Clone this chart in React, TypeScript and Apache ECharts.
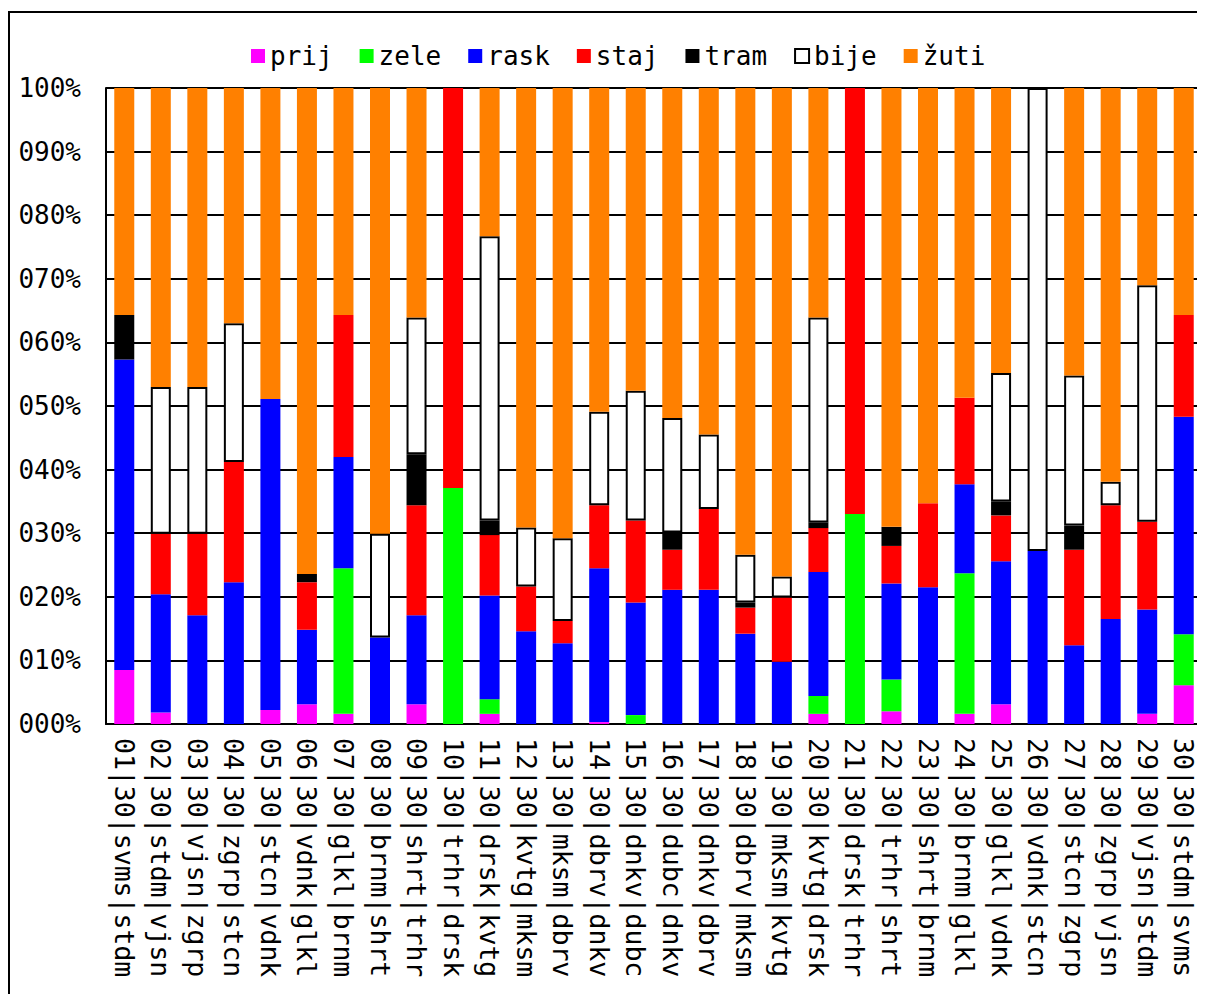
import React, { useEffect, useRef } from "react";
import * as echarts from "echarts";

const categories = [
  "01|30|svms|stdm", "02|30|stdm|vjsn", "03|30|vjsn|zgrp", "04|30|zgrp|stcn", "05|30|stcn|vdnk",
  "06|30|vdnk|glkl", "07|30|glkl|brnm", "08|30|brnm|shrt", "09|30|shrt|trhr", "10|30|trhr|drsk",
  "11|30|drsk|kvtg", "12|30|kvtg|mksm", "13|30|mksm|dbrv", "14|30|dbrv|dnkv", "15|30|dnkv|dubc",
  "16|30|dubc|dnkv", "17|30|dnkv|dbrv", "18|30|dbrv|mksm", "19|30|mksm|kvtg", "20|30|kvtg|drsk",
  "21|30|drsk|trhr", "22|30|trhr|shrt", "23|30|shrt|brnm", "24|30|brnm|glkl", "25|30|glkl|vdnk",
  "26|30|vdnk|stcn", "27|30|stcn|zgrp", "28|30|zgrp|vjsn", "29|30|vjsn|stdm", "30|30|stdm|svms",
];

const prij = [8.5, 1.8, 0, 0, 2.2, 3.1, 1.6, 0, 3.1, 0, 1.6, 0, 0, 0.3, 0, 0, 0, 0, 0, 1.6, 0, 2.0, 0, 1.6, 3.1, 0, 0, 0, 1.6, 6.1];
const zele = [0, 0, 0, 0, 0, 0, 22.9, 0, 0, 37.1, 2.3, 0, 0, 0, 1.4, 0, 0, 0, 0, 2.8, 33.0, 5.0, 0, 22.1, 0, 0, 0, 0, 0, 8.0];
const rask = [48.8, 18.6, 17.1, 22.3, 48.9, 11.7, 17.5, 13.6, 14.0, 0, 16.3, 14.6, 12.7, 24.2, 17.7, 21.1, 21.1, 14.2, 9.8, 19.5, 0, 15.1, 21.5, 14.0, 22.5, 27.2, 12.4, 16.5, 16.4, 34.2];
const staj = [0, 9.5, 12.8, 18.9, 0, 7.5, 22.3, 0, 17.3, 62.9, 9.5, 7.0, 3.5, 9.9, 12.9, 6.3, 12.7, 4.1, 10.1, 6.9, 67.0, 5.9, 13.2, 13.6, 7.2, 0, 15.0, 17.9, 13.8, 16.0];
const tram = [7.0, 0, 0, 0, 0, 1.3, 0, 0, 8.0, 0, 2.3, 0, 0, 0, 0, 2.7, 0, 0.8, 0, 0.9, 0, 3.0, 0, 0, 2.2, 0, 3.8, 0, 0, 0];
const bije = [0, 23.1, 23.1, 21.8, 0, 0, 0, 16.3, 21.5, 0, 44.7, 9.3, 13.0, 14.7, 20.4, 18.0, 11.7, 7.5, 3.3, 32.2, 0, 0, 0, 0, 20.2, 72.8, 23.6, 3.7, 37.2, 0];
const zuti = [35.7, 47.0, 47.0, 37.0, 48.9, 76.4, 35.7, 70.1, 36.1, 0, 23.3, 69.1, 70.8, 50.9, 47.6, 51.9, 54.5, 73.4, 76.8, 36.1, 0, 69.0, 65.3, 48.7, 44.8, 0, 45.2, 61.9, 31.0, 35.7];

const seriesNames = ["prij", "zele", "rask", "staj", "tram", "bije", "žuti"];
const seriesData = [prij, zele, rask, staj, tram, bije, zuti];
const seriesColors = ["#ff00ff", "#00ff00", "#0000ff", "#ff0000", "#000000", "#ffffff", "#ff8000"];

const FONT = "DejaVu Sans Mono";

export default function App() {
  const ref = useRef<HTMLDivElement>(null);
  useEffect(() => {
    if (!ref.current) return;
    const chart = echarts.init(ref.current, null, { renderer: "svg" });
    const series = seriesNames.map((name, i) => ({
      name,
      type: "bar",
      stack: "total",
      barWidth: 20,
      data: seriesData[i].map((v) => (v === 0 ? "-" : v)),
      itemStyle: name === "bije"
        ? { color: "#ffffff", borderColor: "#000000", borderWidth: 2 }
        : { color: seriesColors[i] },
      emphasis: { disabled: true },
    }));
    chart.setOption({
      animation: false,
      backgroundColor: "#ffffff",
      textStyle: { fontFamily: FONT },
      graphic: [
        { type: "line", shape: { x1: 1, y1: 4, x2: 1, y2: 986 }, style: { stroke: "#000", lineWidth: 2 } },
        { type: "line", shape: { x1: 0, y1: 4, x2: 1197, y2: 4 }, style: { stroke: "#000", lineWidth: 2 } },
      ],
      legend: {
        top: 30,
        left: 238,
        itemWidth: 14,
        itemHeight: 14,
        itemGap: 27,
        icon: "rect",
        textStyle: { fontFamily: FONT, fontSize: 26, color: "#000" },
        data: seriesNames,
      },
      grid: { left: 98, right: 3, top: 80, bottom: 270, containLabel: false },
      xAxis: {
        type: "category",
        data: categories,
        axisTick: { show: false },
        axisLine: { lineStyle: { color: "#000", width: 2 } },
        axisLabel: {
          rotate: -90,
          interval: 0,
          margin: 14,
          fontFamily: FONT,
          fontSize: 26.5,
          color: "#000",
        },
      },
      yAxis: {
        type: "value",
        min: 0,
        max: 100,
        interval: 10,
        axisLine: { show: true, lineStyle: { color: "#000", width: 2 } },
        axisTick: { show: false },
        splitLine: { show: true, lineStyle: { color: "#000", width: 2 } },
        axisLabel: {
          margin: 25,
          fontFamily: FONT,
          fontSize: 26,
          color: "#000",
          formatter: (v: number) => String(Math.round(v)).padStart(3, "0") + "%",
        },
      },
      series,
    });
    return () => chart.dispose();
  }, []);
  return <div ref={ref} style={{ width: 1197, height: 986 }} />;
}
